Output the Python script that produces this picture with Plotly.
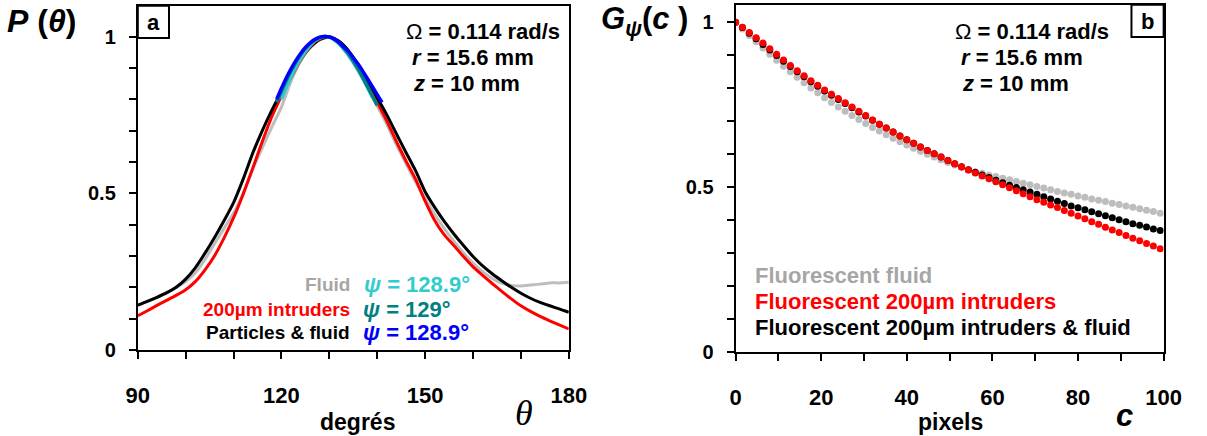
import plotly.graph_objects as go

# ---------------- Panel a data ----------------
theta = [90, 92, 94, 96, 98, 100, 102, 104, 106, 108, 110, 112, 114, 116, 118, 120,
         122, 124, 126, 128, 130, 132, 134, 136, 138, 140, 142, 144, 146, 148, 150,
         152, 154, 156, 158, 160, 162, 164, 166, 168, 170, 172, 174, 176, 178, 180]

p_fluid = [0.143, 0.155, 0.168, 0.183, 0.199, 0.218, 0.246, 0.288, 0.338, 0.388, 0.437,
           0.5, 0.577, 0.645, 0.712, 0.775, 0.858, 0.922, 0.965, 0.99, 0.998, 0.98,
           0.945, 0.895, 0.838, 0.778, 0.72, 0.655, 0.595, 0.537, 0.483, 0.432, 0.387,
           0.347, 0.31, 0.277, 0.25, 0.228, 0.213, 0.206, 0.204, 0.207, 0.21, 0.214,
           0.214, 0.216]

p_intruders = [0.109, 0.125, 0.142, 0.158, 0.174, 0.192, 0.218, 0.255, 0.3, 0.357, 0.422,
               0.497, 0.58, 0.665, 0.745, 0.81, 0.87, 0.925, 0.965, 0.99, 0.999, 0.985,
               0.952, 0.903, 0.848, 0.79, 0.73, 0.665, 0.603, 0.545, 0.475, 0.413, 0.367,
               0.333, 0.298, 0.265, 0.238, 0.212, 0.187, 0.163, 0.141, 0.123, 0.107, 0.093,
               0.08, 0.067]

p_both = [0.143, 0.155, 0.168, 0.182, 0.2, 0.226, 0.262, 0.308, 0.358, 0.412, 0.47,
          0.545, 0.628, 0.7, 0.765, 0.825, 0.88, 0.93, 0.968, 0.992, 0.999, 0.985,
          0.955, 0.91, 0.86, 0.805, 0.75, 0.69, 0.63, 0.572, 0.505, 0.455, 0.41, 0.37,
          0.333, 0.298, 0.268, 0.243, 0.221, 0.2, 0.181, 0.165, 0.152, 0.141, 0.131, 0.12]

# fitted peaks
fit_fluid_theta = [120, 121, 122, 123, 124, 125, 126, 127, 128, 129, 130, 131, 132, 133,
                   134, 135, 136, 137, 138, 139]
fit_fluid = [0.8, 0.838, 0.872, 0.902, 0.929, 0.952, 0.971, 0.986, 0.995, 1.0, 0.998,
             0.99, 0.977, 0.959, 0.94, 0.917, 0.892, 0.865, 0.836, 0.806]

fit_intr_theta = [119, 120, 121, 122, 123, 124, 125, 126, 127, 128, 129, 130, 131, 132,
                  133, 134, 135, 136, 137, 138, 139, 140]
fit_intr = [0.79, 0.826, 0.86, 0.891, 0.918, 0.942, 0.962, 0.978, 0.99, 0.997, 1.0, 0.998,
            0.991, 0.98, 0.964, 0.945, 0.922, 0.897, 0.869, 0.84, 0.81, 0.78]

fit_both_theta = [119, 120, 121, 122, 123, 124, 125, 126, 127, 128, 129, 130, 131, 132,
                  133, 134, 135, 136, 137, 138, 139, 140, 141]
fit_both = [0.8, 0.835, 0.868, 0.897, 0.923, 0.946, 0.965, 0.98, 0.991, 0.998, 1.0, 0.999,
            0.993, 0.982, 0.967, 0.952, 0.932, 0.912, 0.889, 0.865, 0.84, 0.815, 0.79]

# ---------------- Panel b data ----------------
c_pix = [0.0, 1.6, 3.2, 4.8, 6.4, 8.0, 9.6, 11.2, 12.8, 14.4, 16.0, 17.6, 19.2, 20.8,
         22.4, 24.0, 25.6, 27.2, 28.8, 30.4, 32.0, 33.6, 35.2, 36.8, 38.4, 40.0, 41.6,
         43.2, 44.8, 46.4, 48.0, 49.6, 51.2, 52.8, 54.4, 56.0, 57.6, 59.2, 60.8, 62.4,
         64.0, 65.6, 67.2, 68.8, 70.4, 72.0, 73.6, 75.2, 76.8, 78.4, 80.0, 81.6, 83.2,
         84.8, 86.4, 88.0, 89.6, 91.2, 92.8, 94.4, 96.0, 97.6, 99.2]

g_fluid = [1.0, 0.98, 0.96, 0.941, 0.922, 0.903, 0.885, 0.867, 0.85, 0.833, 0.817, 0.801,
           0.786, 0.771, 0.757, 0.743, 0.73, 0.717, 0.705, 0.693, 0.681, 0.67, 0.659,
           0.648, 0.638, 0.628, 0.618, 0.609, 0.6, 0.591, 0.583, 0.575, 0.567, 0.56,
           0.553, 0.546, 0.542, 0.537, 0.532, 0.527, 0.522, 0.517, 0.512, 0.507, 0.502,
           0.497, 0.492, 0.487, 0.482, 0.478, 0.473, 0.469, 0.464, 0.46, 0.456, 0.451,
           0.447, 0.443, 0.439, 0.434, 0.43, 0.426, 0.421]

g_intruders = [1.0, 0.985, 0.969, 0.953, 0.937, 0.92, 0.903, 0.886, 0.869, 0.853, 0.838,
               0.823, 0.809, 0.795, 0.782, 0.769, 0.756, 0.743, 0.73, 0.717, 0.704, 0.691,
               0.679, 0.667, 0.655, 0.644, 0.633, 0.622, 0.611, 0.601, 0.591, 0.581, 0.571,
               0.561, 0.552, 0.543, 0.534, 0.525, 0.516, 0.507, 0.498, 0.489, 0.48, 0.471,
               0.462, 0.454, 0.446, 0.438, 0.429, 0.421, 0.412, 0.404, 0.395, 0.387, 0.378,
               0.37, 0.362, 0.353, 0.345, 0.337, 0.329, 0.321, 0.313]

g_both = [1.0, 0.984, 0.967, 0.95, 0.933, 0.916, 0.899, 0.882, 0.866, 0.85, 0.835, 0.82,
          0.806, 0.792, 0.779, 0.766, 0.754, 0.741, 0.728, 0.716, 0.703, 0.691, 0.679,
          0.667, 0.655, 0.644, 0.633, 0.622, 0.611, 0.601, 0.591, 0.581, 0.571, 0.562,
          0.553, 0.545, 0.537, 0.529, 0.521, 0.513, 0.506, 0.499, 0.492, 0.485, 0.478,
          0.471, 0.464, 0.457, 0.45, 0.443, 0.437, 0.431, 0.425, 0.419, 0.413, 0.407,
          0.401, 0.395, 0.389, 0.384, 0.379, 0.373, 0.368]

GRAY = "#BDBDBD"
GRAY_TXT = "#A6A6A6"
RED = "#FF0000"
BLACK = "#000000"
CYAN = "#33CCCC"
TEAL = "#008080"
BLUE = "#0000FF"
SANS = "Liberation Sans, Arial, sans-serif"
SERIF = "Liberation Serif, Times New Roman, serif"

W, H = 1207, 436


def px(x):
    return x / W


def py(y):
    return 1 - y / H


fig = go.Figure()

# panel a
for x, y, col in [(theta, p_fluid, GRAY), (theta, p_intruders, RED), (theta, p_both, BLACK)]:
    fig.add_trace(go.Scatter(x=x, y=y, mode="lines", line=dict(color=col, width=3, shape="spline", smoothing=0.6),
                             xaxis="x", yaxis="y", showlegend=False))
for x, y, col in [(fit_fluid_theta, fit_fluid, CYAN), (fit_intr_theta, fit_intr, TEAL),
                  (fit_both_theta, fit_both, BLUE)]:
    fig.add_trace(go.Scatter(x=x, y=y, mode="lines", line=dict(color=col, width=3.5, shape="spline"),
                             xaxis="x", yaxis="y", showlegend=False))

# panel b
for y, col in [(g_fluid, GRAY), (g_both, BLACK), (g_intruders, RED)]:
    fig.add_trace(go.Scatter(x=c_pix, y=y, mode="markers", marker=dict(color=col, size=7),
                             xaxis="x2", yaxis="y2", showlegend=False))

axis_common = dict(showline=True, linecolor="black", linewidth=2, mirror=True,
                   showgrid=False, zeroline=False, ticks="outside", ticklen=7,
                   tickwidth=1.5, tickcolor="black")
xfont = dict(family=SANS, size=22, color="black", weight="bold")
yfont = dict(family=SANS, size=20, color="black", weight="bold")
minor_x = dict(dtick=10, ticks="outside", ticklen=7, tickwidth=1.5, tickcolor="black")
minor_y = dict(dtick=0.1, tick0=0, ticks="outside", ticklen=7, tickwidth=1.5, tickcolor="black")

fig.update_layout(
    width=W, height=H, autosize=False,
    margin=dict(l=0, r=0, t=0, b=0),
    paper_bgcolor="white", plot_bgcolor="white",
    xaxis=dict(domain=[px(129), px(571)], range=[90, 180], anchor="y",
               tickvals=[90, 120, 150, 180], ticktext=["90", "120", "150", "180"],
               minor=dict(tick0=90, **minor_x),
               tickfont=xfont, ticklabelstandoff=18, **axis_common),
    yaxis=dict(domain=[1 - 359 / H, 1 - 6 / H], range=[0, 1.098], anchor="x",
               tickvals=[0, 0.5, 1], ticktext=["0", "0.5", "1"],
               minor=minor_y, tickfont=yfont, ticklabelstandoff=9, **axis_common),
    xaxis2=dict(domain=[px(742), px(1181)], range=[0, 100], anchor="y2",
                tickvals=[0, 20, 40, 60, 80, 100],
                minor=dict(tick0=0, **minor_x),
                tickfont=xfont, ticklabelstandoff=18, **axis_common),
    yaxis2=dict(domain=[1 - 361 / H, 1 - 5 / H], range=[0, 1.053], anchor="x2",
                tickvals=[0, 0.5, 1], ticktext=["0", "0.5", "1"],
                minor=minor_y, tickfont=yfont, ticklabelstandoff=9, **axis_common),
)

ann = []


def add_text(x, y, text, size, color="black", family=SANS, xanchor="left"):
    ann.append(dict(x=px(x), y=py(y), xref="paper", yref="paper", text=text, showarrow=False,
                    xanchor=xanchor, yanchor="middle", borderpad=0,
                    font=dict(family=family, size=size, color=color)))


# axis titles
add_text(-6, 22, "<b><i>P</i> (<i>θ</i>)</b>", 32)
add_text(354, 433, "<b>degrés</b>", 23, xanchor="center")
add_text(525, 424, "<i>θ</i>", 36, family=SERIF, xanchor="center")
add_text(603, 22, "<b><i>G</i><sub><i>ψ</i></sub>(<i>c</i> )</b>", 31)
add_text(962, 433, "<b>pixels</b>", 23, xanchor="center")
add_text(1141, 426, "<b><i>c</i></b>", 31, xanchor="center")

# condition text (both panels)
for x0 in (403, 966):
    add_text(x0, 32, "Ω<b> = 0.114 rad/s</b>", 22)
    add_text(x0 + 6, 59, "<b><i>r</i> = 15.6 mm</b>", 22)
    add_text(x0 + 7, 86, "<b><i>z</i> = 10 mm</b>", 22)

# panel a legend
add_text(348, 292, "<b>Fluid</b>", 19, color=GRAY_TXT, xanchor="right")
add_text(348, 317, "<b>200µm intruders</b>", 19, color=RED, xanchor="right")
add_text(348, 341, "<b>Particles & fluid</b>", 19, color=BLACK, xanchor="right")
add_text(360, 292, "<b><i>ψ</i> = 128.9°</b>", 22, color=CYAN)
add_text(359, 317, "<b><i>ψ</i> = 129°</b>", 22, color=TEAL)
add_text(359, 341, "<b><i>ψ</i> = 128.9°</b>", 22, color=BLUE)

# panel b legend
add_text(761, 283, "<b>Fluorescent fluid</b>", 22, color=GRAY_TXT)
add_text(761, 309, "<b>Fluorescent 200µm intruders</b>", 22, color=RED)
add_text(761, 336, "<b>Fluorescent 200µm intruders & fluid</b>", 22, color=BLACK)

# panel tags
add_text(145, 23, "<b>a</b>", 22, xanchor="center")
add_text(1164.5, 22, "<b>b</b>", 22, xanchor="center")

fig.update_layout(annotations=ann)

fig.add_shape(type="rect", xref="paper", yref="paper", x0=px(129), x1=px(161), y0=py(39), y1=py(6),
              line=dict(color="black", width=2))
fig.add_shape(type="rect", xref="paper", yref="paper", x0=px(1148), x1=px(1181), y0=py(38), y1=py(5),
              line=dict(color="black", width=2))

fig.write_html("out.html")
